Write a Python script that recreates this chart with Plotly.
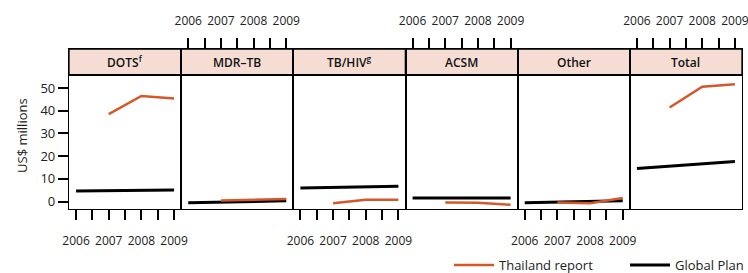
import plotly.graph_objects as go

panels = ["DOTS<sup>f</sup>", "MDR–TB", "TB/HIV<sup>g</sup>", "ACSM", "Other", "Total"]
years = [2006, 2007, 2008, 2009]
thai_years = [2007, 2008, 2009]

global_plan = [
    [4.6, 4.8, 4.9, 5.1],
    [-0.5, -0.3, 0.0, 0.3],
    [6.0, 6.3, 6.5, 6.7],
    [1.5, 1.5, 1.6, 1.6],
    [-0.5, -0.2, 0.0, 0.3],
    [14.5, 15.6, 16.5, 17.6],
]
thailand = [
    [38.5, 46.5, 45.4],
    [0.4, 0.8, 1.1],
    [-0.8, 0.8, 0.8],
    [-0.4, -0.6, -1.4],
    [-0.4, -0.8, 1.5],
    [41.4, 50.6, 51.6],
]

y_ticks = [0, 10, 20, 30, 40, 50]

ORANGE = "#d4592a"
BLACK = "#000000"
STRIP = "#f5ddd3"
FONT = "Open Sans"

fig = go.Figure()
n = len(panels)
w = 1.0 / n
strip_bottom = (209 - 75) / 160.0

for i in range(n):
    xa = "x" if i == 0 else f"x{i+1}"
    ya = "y" if i == 0 else f"y{i+1}"
    fig.add_trace(go.Scatter(
        x=years, y=global_plan[i], mode="lines", xaxis=xa, yaxis=ya,
        line=dict(color=BLACK, width=3), name="Global Plan",
        showlegend=(i == 0), legendrank=2))
    fig.add_trace(go.Scatter(
        x=thai_years, y=thailand[i], mode="lines", xaxis=xa, yaxis=ya,
        line=dict(color=ORANGE, width=2.5), name="Thailand report",
        showlegend=(i == 0), legendrank=1))

    side = "bottom" if i % 2 == 0 else "top"
    xkey = "xaxis" if i == 0 else f"xaxis{i+1}"
    ykey = "yaxis" if i == 0 else f"yaxis{i+1}"
    fig.layout[xkey] = dict(
        domain=[i * w, (i + 1) * w], anchor=ya, side=side,
        range=[2005.783, 2009.217], tick0=2006, dtick=1, tickangle=0,
        ticks="outside", ticklen=10, tickwidth=1.5, tickcolor="#000",
        minor=dict(tick0=2006, dtick=0.5, ticks="outside", ticklen=10,
                   tickwidth=1.5, tickcolor="#000", showgrid=False),
        ticklabelstandoff=(10 if side == "bottom" else 8),
        ticklabeloverflow="allow",
        showline=True, linecolor="#000", linewidth=1.3, mirror=True,
        showgrid=False, zeroline=False, fixedrange=True, automargin=False,
        tickfont=dict(family=FONT, size=12, color="#222"),
    )
    ydict = dict(
        domain=[0, 1], anchor=xa, range=[-3.30, 67.18],
        showline=True, linecolor="#000", linewidth=1.3, mirror=True,
        showgrid=False, zeroline=False, fixedrange=True, automargin=False,
    )
    if i == 0:
        ydict.update(tickvals=y_ticks, ticks="outside", ticklen=10,
                     tickwidth=1.5, tickcolor="#000",
                     tickfont=dict(family=FONT, size=13, color="#222"))
    else:
        ydict.update(matches="y", showticklabels=False, ticks="")
    fig.layout[ykey] = ydict

    fig.add_shape(type="rect", xref="paper", yref="paper",
                  x0=i * w, x1=(i + 1) * w, y0=strip_bottom, y1=1.0,
                  fillcolor=STRIP, line=dict(color="#000", width=1.3),
                  layer="below")
    fig.add_shape(type="line", xref="paper", yref="paper",
                  x0=i * w, x1=(i + 1) * w, y0=strip_bottom, y1=strip_bottom,
                  line=dict(color="#000", width=2))
    fig.add_annotation(text=panels[i], xref="paper", yref="paper",
                       x=(i + 0.5) * w, y=(1 + strip_bottom) / 2,
                       showarrow=False, xanchor="center", yanchor="middle",
                       font=dict(family=FONT, size=12, color="#111", weight=600))

fig.add_annotation(text="US$ millions", xref="paper", yref="paper",
                   x=-0.07, y=(209 - 135) / 160.0, xanchor="center",
                   yanchor="middle", textangle=-90, showarrow=False,
                   font=dict(family=FONT, size=13, color="#222"))

fig.update_layout(
    width=748, height=273, autosize=False,
    margin=dict(l=69, r=6, t=49, b=64, autoexpand=False),
    paper_bgcolor="white", plot_bgcolor="white",
    showlegend=True,
    legend=dict(orientation="h", x=(449 - 69) / 673.0, xanchor="left",
                y=(209 - 265) / 160.0, yanchor="middle",
                font=dict(family=FONT, size=13, color="#222"),
                bgcolor="rgba(0,0,0,0)", traceorder="normal",
                entrywidth=121, itemwidth=40),
)

fig.write_html("out.html",
               config={"displayModeBar": False},
               post_script="document.body.style.margin='0';document.body.style.overflow='hidden';")
